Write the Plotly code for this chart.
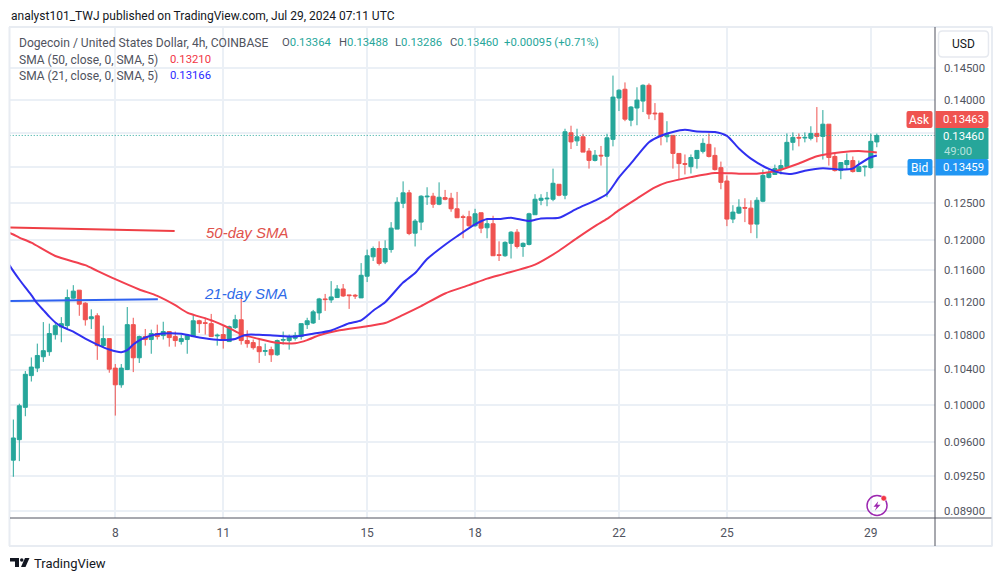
import math
import pandas as pd
import plotly.graph_objects as go

# ---------- data (USD per DOGE, 4h candles) ----------
start_time = "2024-07-05 04:00"
candle_open = [
 .09411,.09626,.09975,.10330,.10416,.10547,.10606,.10808,.10899,.10915,
 .11250,.11350,.11188,.10998,.11034,.10677,.10760,.10416,.10226,.10400,
 .10927,.10535,.10784,.10749,.10820,.10796,.10844,.10784,.10725,.10749,
 .10784,.10974,.10950,.10939,.10792,.10808,.10725,.10891,.10986,.10737,
 .10713,.10665,.10610,.10630,.10570,.10741,.10737,.10764,.10784,.10927,
 .10947,.11069,.11241,.11229,.11258,.11365,.11291,.11287,.11254,.11526,
 .11775,.11883,.11708,.11870,.12140,.12491,.12635,.12086,.12234,.12579,
 .12588,.12478,.12569,.12560,.12415,.12307,.12307,.12185,.12361,.12158,
 .12212,.11802,.11789,.11951,.12099,.11910,.11937,.12334,.12532,.12551,
 .12546,.12755,.12602,.13500,.13380,.13440,.13230,.13095,.13170,.13155,
 .13402,.14026,.14163,.13689,.13873,.13980,.14225,.13796,.13796,.13441,
 .13461,.13196,.13049,.13005,.13122,.13226,.13329,.13167,.12991,.12801,
 .12275,.12356,.12433,.12424,.12207,.12519,.12852,.12894,.12963,.13005,
 .13358,.13431,.13422,.13417,.13490,.13446,.13628,.13152,.12949,.13034,
 .13093,.12935,.13000,.12991,.13364]
candle_high = [
 .09842,.10015,.10382,.10539,.10701,.10958,.10939,.10939,.11018,.11358,
 .11413,.11350,.11200,.11113,.11065,.10915,.10760,.10463,.10463,.11141,
 .11010,.10796,.10875,.10867,.10927,.10962,.10844,.10844,.10808,.10808,
 .11046,.10986,.11010,.11057,.10820,.10907,.10915,.11046,.11258,.10859,
 .10749,.10749,.10701,.10665,.10749,.10844,.10808,.10836,.10939,.11010,
 .11106,.11254,.11303,.11464,.11414,.11427,.11291,.11303,.11694,.11869,
 .11910,.11978,.11991,.12234,.12574,.12796,.12676,.12275,.12602,.12713,
 .12635,.12782,.12676,.12635,.12648,.12334,.12388,.12415,.12361,.12266,
 .12320,.11978,.11978,.12113,.12140,.11964,.12361,.12616,.12616,.12648,
 .12977,.12755,.13560,.13605,.13560,.13485,.13275,.13245,.13305,.13485,
 .14378,.14163,.14270,.13903,.14194,.14240,.14255,.13949,.13796,.13673,
 .13461,.13196,.13181,.13181,.13240,.13417,.13490,.13284,.13078,.12880,
 .12464,.12546,.12560,.12532,.12574,.12963,.12963,.13034,.13108,.13490,
 .13505,.13490,.13505,.13597,.13888,.13842,.13628,.13196,.13064,.13196,
 .13152,.13093,.13020,.13490,.13488]
candle_low = [
 .09240,.09401,.09878,.10263,.10370,.10487,.10558,.10749,.10717,.10867,
 .11242,.11034,.10915,.10875,.10511,.10650,.10363,.09885,.10193,.10393,
 .10370,.10475,.10677,.10582,.10749,.10749,.10665,.10665,.10689,.10582,
 .10784,.10828,.10808,.10784,.10677,.10642,.10725,.10875,.10689,.10653,
 .10630,.10475,.10558,.10487,.10558,.10689,.10630,.10737,.10749,.10875,
 .10935,.10984,.11094,.11192,.11254,.11266,.11118,.11241,.11254,.11452,
 .11721,.11663,.11681,.11829,.12140,.12424,.12059,.11910,.12126,.12468,
 .12428,.12464,.12532,.12374,.12293,.12018,.12171,.12171,.12086,.12018,
 .11789,.11721,.11775,.11753,.11883,.11775,.11924,.12334,.12464,.12450,
 .12519,.12588,.12546,.13260,.13305,.13215,.12977,.13080,.13020,.12574,
 .13299,.13827,.13673,.13597,.13612,.13811,.13704,.13689,.13314,.13358,
 .12977,.12826,.12894,.12907,.12977,.13196,.13137,.12949,.12685,.12180,
 .12221,.12343,.12234,.12086,.12018,.12505,.12838,.12894,.12894,.12991,
 .13240,.13299,.13358,.13387,.13358,.13108,.13020,.12935,.12826,.12963,
 .12921,.12935,.12866,.12977,.13286]
candle_close = [
 .09644,.09993,.10345,.10428,.10562,.10618,.10820,.10915,.10939,.11258,
 .11338,.11176,.10986,.11022,.10677,.10760,.10404,.10226,.10416,.10927,
 .10535,.10784,.10749,.10820,.10784,.10844,.10772,.10737,.10760,.10796,
 .10974,.10939,.10943,.10784,.10800,.10737,.10903,.10986,.10737,.10701,
 .10653,.10606,.10618,.10570,.10737,.10749,.10776,.10796,.10939,.10974,
 .11082,.11241,.11233,.11266,.11365,.11278,.11282,.11278,.11538,.11789,
 .11883,.11690,.11883,.12153,.12505,.12635,.12081,.12248,.12588,.12588,
 .12478,.12574,.12546,.12415,.12293,.12298,.12185,.12347,.12153,.12212,
 .11789,.11793,.11964,.12099,.11910,.11951,.12347,.12546,.12560,.12560,
 .12769,.12602,.13515,.13365,.13440,.13215,.13095,.13170,.13160,.13425,
 .14041,.14148,.13704,.13888,.13995,.14225,.13781,.13786,.13446,.13470,
 .13196,.13049,.13039,.13137,.13240,.13343,.13152,.12963,.12782,.12275,
 .12370,.12437,.12424,.12207,.12532,.12880,.12907,.12977,.13020,.13358,
 .13431,.13422,.13431,.13490,.13446,.13628,.13137,.12949,.13064,.13093,
 .12935,.13005,.13010,.13373,.13460]

sma21_index = [-1,0,1,2,3,4,5,6,7,8,9,10,12,14,16,18,19,20,21,23,25,28,31,34,36,37,38,39,41,44,47,50,
               53,56,58,60,62,65,67,69,72,74,77,79,81,83,86,88,91,94,97,99,101,103,106,108,110,112,
               114,117,119,121,123,126,128,130,132,135,138,140,141,143,144]
sma21_value = [.11706,.11591,.11484,.11384,.11288,.11185,.11104,.11024,.10953,.10905,.10874,.10842,.10759,
               .10690,.10632,.10601,.10624,.10690,.10740,.10798,.10821,.10818,.10774,.10747,.10747,.10755,
               .10786,.10806,.10806,.10794,.10786,.10818,.10857,.10943,.10979,.11096,.11200,.11446,.11566,
               .11746,.11933,.12045,.12203,.12275,.12275,.12293,.12248,.12284,.12293,.12417,.12528,.12619,
               .12852,.13051,.13360,.13456,.13512,.13543,.13518,.13512,.13453,.13268,.13121,.12972,.12913,
               .12904,.12946,.12983,.12965,.12979,.13037,.13140,.13166]
sma50_index = [-1,0,1,3,7,12,14,17,21,24,27,29,33,36,38,41,44,47,49,51,54,59,62,65,68,72,76,79,82,87,91,94,
               97,99,101,104,107,109,113,117,121,124,127,131,134,138,141,144]
sma50_value = [.12102,.12068,.12027,.11960,.11786,.11667,.11594,.11488,.11359,.11279,.11164,.11073,.10980,
               .10886,.10814,.10756,.10710,.10706,.10742,.10800,.10854,.10908,.10946,.11045,.11152,.11309,
               .11413,.11496,.11559,.11674,.11854,.12020,.12180,.12277,.12396,.12556,.12711,.12781,.12856,
               .12915,.12905,.12905,.12938,.13051,.13154,.13213,.13232,.13210]

note50_index = [-0.6, 26.9]
note50_value = [.12163, .12115]
note21_index = [-0.6, 24.1]
note21_value = [.11216, .11238]

price_ticks = [.145,.14,.135,.13,.125,.12,.116,.112,.108,.104,.10,.096,.0925,.089]
price_labels = ["0.14500","0.14000","","","0.12500","0.12000","0.11600","0.11200","0.10800","0.10400",
                "0.10000","0.09600","0.09250","0.08900"]
day_ticks = ["2024-07-08","2024-07-11","2024-07-15","2024-07-18","2024-07-22","2024-07-25","2024-07-29"]
day_labels = ["8","11","15","18","22","25","29"]
last_price = .13460

# ---------- styles ----------
UP, DOWN = "#26a69a", "#ef5350"
BLUE, RED = "#3030f0", "#f2404f"
GRID, FRAME, AXIS, TXT = "#ebf0f6", "#e8ecf2", "#50535e", "#50535e"
FONT = "Roboto"
NUM = 11.3
L, R, T, B = 10, 935.5, 28, 518

t0 = pd.Timestamp(start_time)
def when(i):
    return t0 + pd.Timedelta(hours=4) * i
times = [when(i) for i in range(len(candle_open))]

def px(x): return (x - L) / (R - L)
def py(y): return (B - y) / (B - T)

def rpath(x0, y0, x1, y1, rl=0, rr=0):
    X, Y = px, py
    s = f"M {X(x0+rl)} {Y(y0)} L {X(x1-rr)} {Y(y0)} "
    s += f"Q {X(x1)} {Y(y0)} {X(x1)} {Y(y0+rr)} L {X(x1)} {Y(y1-rr)} Q {X(x1)} {Y(y1)} {X(x1-rr)} {Y(y1)} "
    s += f"L {X(x0+rl)} {Y(y1)} Q {X(x0)} {Y(y1)} {X(x0)} {Y(y1-rl)} L {X(x0)} {Y(y0+rl)} Q {X(x0)} {Y(y0)} {X(x0+rl)} {Y(y0)} Z"
    return s

def poly(points):
    return "M " + " L ".join(f"{px(a)} {py(b)}" for a, b in points) + " Z"

shapes = []
def fill(path, color, line=None, width=0, layer="above"):
    shapes.append(dict(type="path", xref="paper", yref="paper", path=path, fillcolor=color,
                       line=dict(color=line or color, width=width), layer=layer))
def seg(x0, y0, x1, y1, color, width):
    shapes.append(dict(type="line", xref="paper", yref="paper", x0=px(x0), y0=py(y0), x1=px(x1), y1=py(y1),
                       line=dict(color=color, width=width), layer="above"))

# frame and axis extensions
seg(9, 27, 993, 27, FRAME, 2); seg(9, 546, 993, 546, FRAME, 2)
seg(9.5, 27, 9.5, 546, FRAME, 2); seg(992.5, 27, 992.5, 546, FRAME, 2)
seg(935.5, 27, 935.5, 546, AXIS, 1); seg(10, 518, 992, 518, AXIS, 1)
# USD button and price tags
fill(rpath(939, 31, 989, 57, 4, 4), "#ffffff", "#e6e9ef", 1.5)
fill(rpath(907, 111, 933, 128, 2, 2), DOWN)
fill(rpath(936, 111, 989, 128, 0, 2), DOWN)
fill(rpath(936, 128, 989, 159, 0, 0), UP)
fill(rpath(936, 159, 989, 175.5, 0, 2), "#2196f3")
fill(rpath(908, 159, 933, 175.5, 2, 2), "#2196f3")
# bolt badge
shapes.append(dict(type="circle", xref="paper", yref="paper", x0=px(867.5), x1=px(887.5), y0=py(515.5), y1=py(495.5),
                   line=dict(color="#9c27b0", width=1.5), fillcolor="rgba(0,0,0,0)"))
fill(poly([(878.7,501.3),(874,506.7),(877,506.7),(875.3,510.7),(881,504.7),(877.7,504.7)]), "#9c27b0")
shapes.append(dict(type="circle", xref="paper", yref="paper", x0=px(881.5), x1=px(887), y0=py(501), y1=py(495.5),
                   line=dict(color="#ffffff", width=0.5), fillcolor="#f23645"))
# logo
LOGO = "#131722"
fill(poly([(10,558),(19,558),(19,567),(15,567),(15,561.5),(10,561.5)]), LOGO)
shapes.append(dict(type="circle", xref="paper", yref="paper", x0=px(20), x1=px(23.5), y0=py(561.8), y1=py(558.3),
                   line=dict(width=0), fillcolor=LOGO))
fill(poly([(25,558),(29.5,558),(25.5,567),(21,567)]), LOGO)

annotations = []
def note(x, y, text, size=12, color=TXT, anchor="left", family=FONT):
    annotations.append(dict(xref="paper", yref="paper", x=px(x), y=py(y), text=text, showarrow=False,
                            xanchor=anchor, yanchor="middle", borderpad=0,
                            font=dict(family=family, size=size, color=color)))
def g(t): return f'<span style="color:{UP}">{t}</span>'

note(10, 15.5, "analyst101_TWJ published on TradingView.com, Jul 29, 2024 07:11 UTC", 12, "#131722")
note(18, 42.5, "Dogecoin / United States Dollar, 4h, COINBASE", 12.1)
note(281, 42.5, "O" + g("0.13364"), NUM)
note(338, 42.5, "H" + g("0.13488"), NUM)
note(394, 42.5, "L" + g("0.13286"), NUM)
note(449, 42.5, "C" + g("0.13460"), NUM)
note(503, 42.5, g("+0.00095 (+0.71%)"), NUM)
note(18, 59.5, "SMA (50, close, 0, SMA, 5)", 12)
note(169, 59.5, "0.13210", NUM, "#f23645")
note(18, 75.5, "SMA (21, close, 0, SMA, 5)", 12)
note(169, 75.5, "0.13166", NUM, "#2a2aff")
note(964, 44, "USD", 12, "#131722", "center")
note(920, 119.5, "Ask", 12, "#ffffff", "center")
note(920, 167.5, "Bid", 12, "#ffffff", "center")
note(964, 119.5, "0.13463", NUM, "#ffffff", "center")
note(964, 136, "0.13460", NUM, "#ffffff", "center")
note(944, 151, "49:00", NUM, "#b5e2dd")
note(964, 167.5, "0.13459", NUM, "#ffffff", "center")
note(248, 232.5, "<i>50-day SMA</i>", 15, "#e0524c", "center", "Liberation Sans")
note(246, 293, "<i>21-day SMA</i>", 15, "#2f6be8", "center", "Liberation Sans")
note(33, 563, "TradingView", 13, "#131722")

fig = go.Figure()
fig.add_trace(go.Scatter(x=[when(i) for i in note50_index], y=note50_value, mode="lines",
                         line=dict(color="#ef3f45", width=2), hoverinfo="skip"))
fig.add_trace(go.Scatter(x=[when(i) for i in note21_index], y=note21_value, mode="lines",
                         line=dict(color="#2f62f0", width=2), hoverinfo="skip"))
fig.add_trace(go.Scatter(x=[when(-0.6), when(153.8)], y=[last_price, last_price], mode="lines",
                         line=dict(color=UP, width=1, dash="1px,2px"), hoverinfo="skip"))
fig.add_trace(go.Candlestick(x=times, open=candle_open, high=candle_high, low=candle_low, close=candle_close,
                             whiskerwidth=0,
                             increasing=dict(line=dict(color=UP, width=1), fillcolor=UP),
                             decreasing=dict(line=dict(color=DOWN, width=1), fillcolor=DOWN)))
fig.add_trace(go.Scatter(x=[when(i) for i in sma50_index], y=sma50_value, mode="lines",
                         line=dict(color=RED, width=2, shape="spline", smoothing=0.6), hoverinfo="skip"))
fig.add_trace(go.Scatter(x=[when(i) for i in sma21_index], y=sma21_value, mode="lines",
                         line=dict(color=BLUE, width=2, shape="spline", smoothing=0.6), hoverinfo="skip"))

fig.update_layout(
    width=1003, height=581, autosize=False, showlegend=False,
    paper_bgcolor="#ffffff", plot_bgcolor="#ffffff",
    margin=dict(l=L, r=1003 - R, t=T, b=581 - B, pad=0),
    boxgap=0.18, boxgroupgap=0.18,
    font=dict(family=FONT, size=12, color=TXT),
    shapes=shapes, annotations=annotations,
    xaxis=dict(type="date", range=[(t0 + pd.Timedelta(hours=4) * (-0.555)), (t0 + pd.Timedelta(hours=4) * 153.7)],
               tickmode="array", tickvals=day_ticks, ticktext=day_labels, showgrid=True, gridcolor=GRID, gridwidth=1.5,
               zeroline=False, showline=False, ticks="", rangeslider=dict(visible=False),
               tickfont=dict(family=FONT, size=12, color=TXT), ticklabelstandoff=6),
    yaxis=dict(type="log", side="right", range=[math.log10(.0883), math.log10(.15152)],
               tickmode="array", tickvals=price_ticks, ticktext=price_labels, showgrid=True, gridcolor=GRID, gridwidth=1.5,
               zeroline=False, showline=False, ticks="", tickfont=dict(family=FONT, size=NUM, color=TXT),
               ticklabelstandoff=8),
)

fig.write_html("out.html", config={"displayModeBar": False}, post_script="document.body.style.margin='0';")
